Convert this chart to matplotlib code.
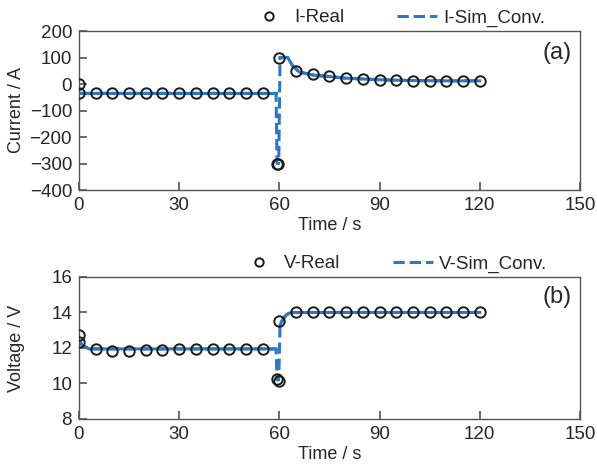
import numpy as np
import matplotlib
matplotlib.use('Agg')
import matplotlib.pyplot as plt

plt.rcParams['font.family'] = ['Liberation Sans', 'DejaVu Sans']
plt.rcParams['xtick.direction'] = 'in'
plt.rcParams['ytick.direction'] = 'in'
plt.rcParams['xtick.major.size'] = 6
plt.rcParams['ytick.major.size'] = 6
plt.rcParams['xtick.major.width'] = 1.1
plt.rcParams['ytick.major.width'] = 1.1

# измеренные точки (ток)
t_real_i = [0, 0, 5, 10, 15, 20, 25, 30, 35, 40, 45, 50, 55, 59.3, 59.7, 60,
            65, 70, 75, 80, 85, 90, 95, 100, 105, 110, 115, 120]
i_real = [0, -35, -35, -35, -35, -35, -35, -35, -35, -35, -35, -35, -35, -300, -300, 100,
          49, 38, 29, 23, 19, 16, 14, 13, 12, 12, 12, 12]

# моделирование (ток)
t_sim_i = [0, 59, 59.3, 59.8, 60.2, 62.5, 64, 66, 70, 75, 80, 90, 100, 110, 120]
i_sim = [-35, -35, -300, -300, 100, 100, 68, 45, 34, 28, 22, 16, 13, 12, 12]

# измеренные точки (напряжение)
t_real_v = [0, 0, 5, 10, 15, 20, 25, 30, 35, 40, 45, 50, 55, 59.4, 59.9, 60,
            65, 70, 75, 80, 85, 90, 95, 100, 105, 110, 115, 120]
v_real = [12.75, 12.32, 11.97, 11.84, 11.84, 11.88, 11.9, 11.92, 11.92, 11.93, 11.93, 11.93, 11.93,
          10.27, 10.14, 13.5, 14, 14, 14, 14, 14, 14, 14, 14, 14, 14, 14, 14]

# моделирование (напряжение)
t_sim_v = [0, 1, 3, 59, 59.3, 59.8, 60.2, 61, 62, 63, 64, 65, 120]
v_sim = [12.4, 12.15, 11.95, 11.95, 10.2, 10.2, 13.3, 13.6, 13.85, 13.97, 14, 14, 14]

blue = '#2e78c2'
dark = '#262626'

fig = plt.figure(figsize=(5.97, 4.67), dpi=100)
ax1 = fig.add_axes([0.1323, 0.5931, 0.8392, 0.3405])
ax2 = fig.add_axes([0.1323, 0.1028, 0.8392, 0.3041])


def draw(ax, tr, yr, ts, ys, real_lbl, sim_lbl, tag, leg_x, leg_y):
    ts = np.array(ts)
    ys = np.array(ys)
    # пунктир по всей линии, сплошная на пологих участках
    ax.plot(ts, ys, '--', color=blue, lw=2.2, label=sim_lbl, zorder=2)
    flat1 = ts <= 59
    flat2 = ts >= 60.2
    ax.plot(ts[flat1], ys[flat1], '-', color=blue, lw=2.2, zorder=2)
    ax.plot(ts[flat2], ys[flat2], '-', color=blue, lw=2.2, zorder=2)
    ax.plot(tr, yr, 'o', mfc='none', mec='#1a1a1a', ms=7.5, mew=1.4,
            label=real_lbl, zorder=3)
    ax.set_xlim(0, 150)
    ax.set_xticks([0, 30, 60, 90, 120, 150])
    ax.set_xlabel('Time / s', fontsize=13, color=dark, labelpad=2)
    ax.tick_params(which='major', direction='in', labelsize=13.5, labelcolor=dark,
                   color='#444444', length=6, width=1.1,
                   top=False, right=False, pad=5)
    for s in ax.spines.values():
        s.set_color('#555555')
        s.set_linewidth(1.0)
    ax.yaxis.set_label_coords(-0.108, 0.5)
    ax.text(0.983, 0.86, tag, transform=ax.transAxes, ha='right', va='center',
            fontsize=17, color=dark)
    h, l = ax.get_legend_handles_labels()
    leg = ax.legend([h[1], h[0]], [l[1], l[0]], ncol=2, frameon=False, loc='center right',
                    bbox_to_anchor=(leg_x, leg_y), fontsize=13.5, columnspacing=2.8,
                    handlelength=2.13, handletextpad=0.3, borderaxespad=0, borderpad=0,
                    markerscale=0.8)
    for t in leg.get_texts():
        t.set_color(dark)


draw(ax1, t_real_i, i_real, t_sim_i, i_sim, 'I-Real', 'I-Sim_Conv.', '(a)', 0.930, 1.082)
ax1.set_ylim(-400, 200)
ax1.set_yticks(np.arange(-400, 201, 100))
ax1.set_ylabel('Current / A', fontsize=13, color=dark)

draw(ax2, t_real_v, v_real, t_sim_v, v_sim, 'V-Real', 'V-Sim_Conv.', '(b)', 0.934, 1.092)
ax2.set_ylim(8, 16)
ax2.set_yticks([8, 10, 12, 14, 16])
ax2.set_ylabel('Voltage / V', fontsize=13, color=dark)

fig.savefig('out.png', dpi=100)
